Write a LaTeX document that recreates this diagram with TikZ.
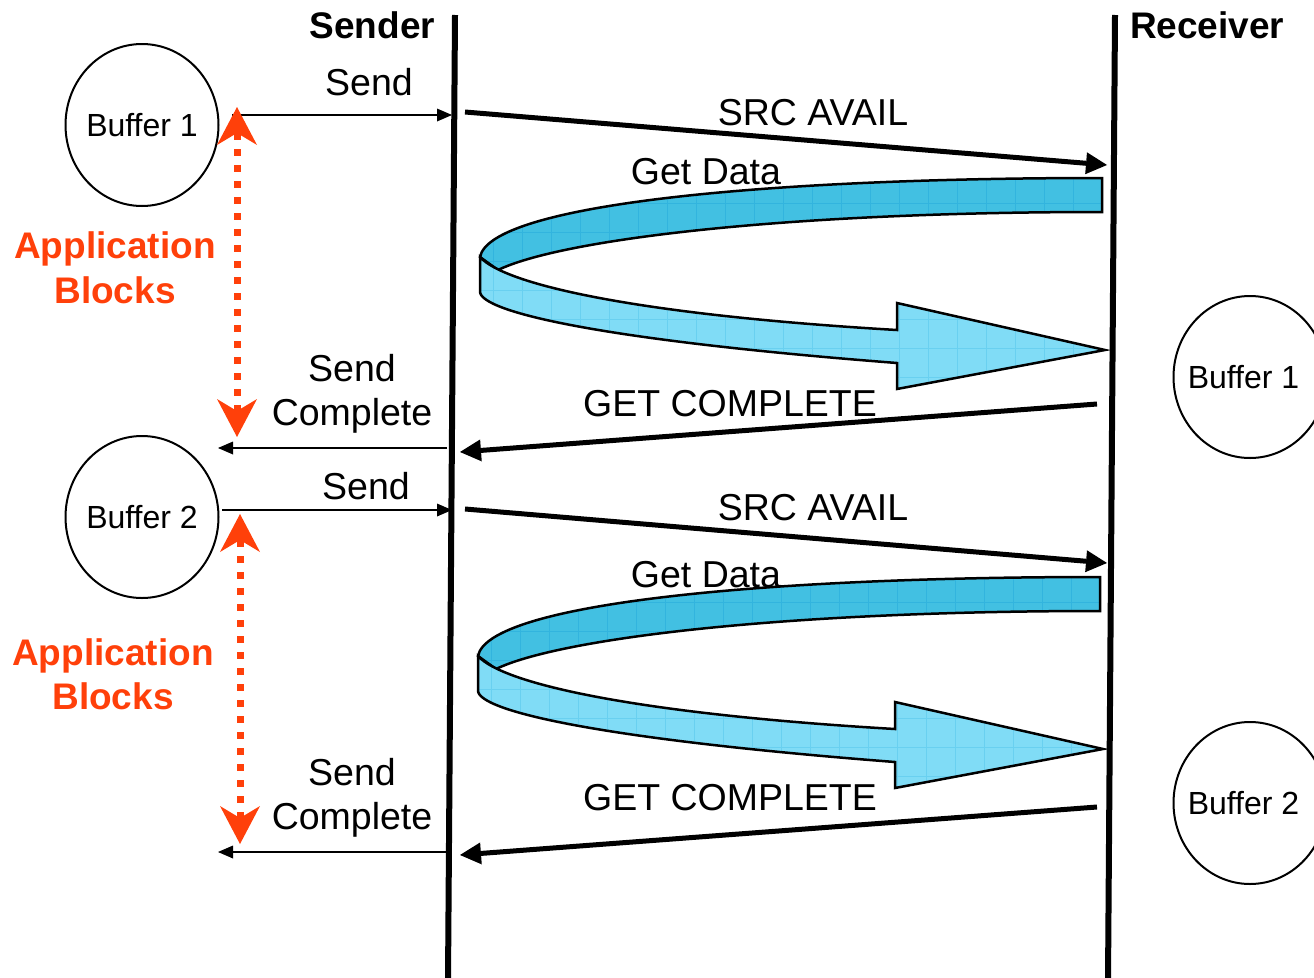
\documentclass[tikz,border=0pt]{standalone}
\usepackage{fontspec}
\setmainfont{Liberation Sans}
\usetikzlibrary{arrows.meta,shapes.geometric}

\definecolor{alert}{RGB}{255,64,10}
\definecolor{banddark}{RGB}{66,192,226}
\definecolor{bandlight}{RGB}{128,220,246}
\definecolor{bandgridd}{RGB}{50,180,222}
\definecolor{bandgridl}{RGB}{105,208,240}

\tikzset{
  % curled "Get Data" band: upper strip runs left, folds, lower strip returns right as an arrow
  getdata/.pic={
    \path[bandtop] (1102,178) .. controls (760,178) and (490,205) .. (480,257)
      -- (498,270) .. controls (560,240) and (780,212) .. (1102,212) -- cycle;
    \path[bandlow] (480,257) .. controls (505,285) and (640,315) .. (897,330)
      -- (897,303) -- (1105,350) -- (897,389) -- (897,363)
      .. controls (600,340) and (482,312) .. (480,292) -- cycle;
  }
}

\begin{document}
\begin{tikzpicture}[x=1pt,y=-1pt,
  every node/.style={inner sep=0pt, outer sep=0pt},
  lifeline/.style={line width=6pt},
  bufferfont/.style={font=\fontsize{32}{38}\selectfont},
  buffer/.style={draw, ellipse, line width=2pt, inner xsep=-4pt,
    minimum width=153pt, minimum height=162pt, bufferfont},
  msgtext/.style={font=\fontsize{37.5}{45}\selectfont, anchor=base},
  actor/.style={font=\bfseries\fontsize{37}{44}\selectfont},
  blocks/.style={font=\bfseries\fontsize{37}{44}\selectfont, text=alert, anchor=base},
  thinmsg/.style={line width=2pt, -{Triangle[length=15pt,width=13pt,line width=0pt]}},
  thickmsg/.style={line width=5pt, -{Triangle[length=21pt,width=22pt,line width=0pt]}},
  blockarrow/.style={alert, line width=7pt, dash pattern=on 7pt off 9pt,
    {Stealth[length=38pt,width=40pt,inset=12pt,line width=0pt]}-{Stealth[length=38pt,width=40pt,inset=12pt,line width=0pt]}},
  bandtop/.style={draw, line width=2.5pt, fill=banddark,
    path picture={\draw[bandgridd, line width=0.6pt] (path picture bounding box.north west)
      grid[step=29pt] (path picture bounding box.south east);}},
  bandlow/.style={draw, line width=2.5pt, fill=bandlight,
    path picture={\draw[bandgridl, line width=0.6pt] (path picture bounding box.north west)
      grid[step=29pt] (path picture bounding box.south east);}}
]
\useasboundingbox (0,0) rectangle (1314,977);
\fill[white] (0,0) rectangle (1314,977);
\clip (0,0) rectangle (1314,977);

% lifelines
\coordinate (sndtop) at (455,15);
\coordinate (sndbot) at (448,980);
\coordinate (rcvtop) at (1115,15);
\coordinate (rcvbot) at (1108,980);
\draw[lifeline] (sndtop) -- (sndbot);
\draw[lifeline] (rcvtop) -- (rcvbot);

\node[actor, anchor=base east] (sender) at (435,38) {Sender};
\node[actor, anchor=base west] (receiver) at (1130,38) {Receiver};

% buffers
\node[buffer] (sbufa) at (142,125) {Buffer 1};
\node[buffer] (sbufb) at (142,517) {Buffer 2};
\node[buffer, label={[bufferfont, xshift=-6.5pt]center:Buffer 1}] (rbufa) at (1250,377) {};
\node[buffer, label={[bufferfont, xshift=-6.5pt]center:Buffer 2}] (rbufb) at (1250,803) {};

% data transfer bands
\pic at (0,0) {getdata};
\pic at (-2,399) {getdata};

% message end points
\coordinate (sendAfrom) at (232,115);  \coordinate (sendAto) at (452,115);
\coordinate (srcAfrom) at (465,112);   \coordinate (srcAto) at (1107,165);
\coordinate (gcAfrom) at (1097,404);   \coordinate (gcAto) at (460,452);
\coordinate (scAfrom) at (447,448);    \coordinate (scAto) at (218,448);
\coordinate (sendBfrom) at (222,510);  \coordinate (sendBto) at (452,510);
\coordinate (srcBfrom) at (465,509);   \coordinate (srcBto) at (1107,563);
\coordinate (gcBfrom) at (1097,807);   \coordinate (gcBto) at (460,855);
\coordinate (scBfrom) at (447,852);    \coordinate (scBto) at (218,852);

\draw[thinmsg] (sendAfrom) -- (sendAto);
\draw[thickmsg] (srcAfrom) -- (srcAto);
\draw[thickmsg] (gcAfrom) -- (gcAto);
\draw[thinmsg] (scAfrom) -- (scAto);
\draw[thinmsg] (sendBfrom) -- (sendBto);
\draw[thickmsg] (srcBfrom) -- (srcBto);
\draw[thickmsg] (gcBfrom) -- (gcBto);
\draw[thinmsg] (scBfrom) -- (scBto);

% blocking intervals
\coordinate (blkAtop) at (237,107); \coordinate (blkAbot) at (237,437);
\coordinate (blkBtop) at (240,514); \coordinate (blkBbot) at (240,844);
\draw[blockarrow] (blkAtop) -- (blkAbot);
\draw[blockarrow] (blkBtop) -- (blkBbot);

% message labels
\node[msgtext] (sendA) at (369,95) {Send};
\node[msgtext] (srcA) at (813,125) {SRC AVAIL};
\node[msgtext] (getA) at (706,184) {Get Data};
\node[msgtext] (scA1) at (352,381) {Send};
\node[msgtext] (scA2) at (352,425) {Complete};
\node[msgtext] (gcA) at (730,416) {GET COMPLETE};

\node[msgtext] (sendB) at (366,499) {Send};
\node[msgtext] (srcB) at (813,520) {SRC AVAIL};
\node[msgtext] (getB) at (706,587) {Get Data};
\node[msgtext] (scB1) at (352,785) {Send};
\node[msgtext] (scB2) at (352,829) {Complete};
\node[msgtext] (gcB) at (730,810) {GET COMPLETE};

\node[blocks] (appA) at (115,258) {Application};
\node[blocks] (blkA) at (115,303) {Blocks};
\node[blocks] (appB) at (113,665) {Application};
\node[blocks] (blkB) at (113,709) {Blocks};
\end{tikzpicture}
\end{document}
